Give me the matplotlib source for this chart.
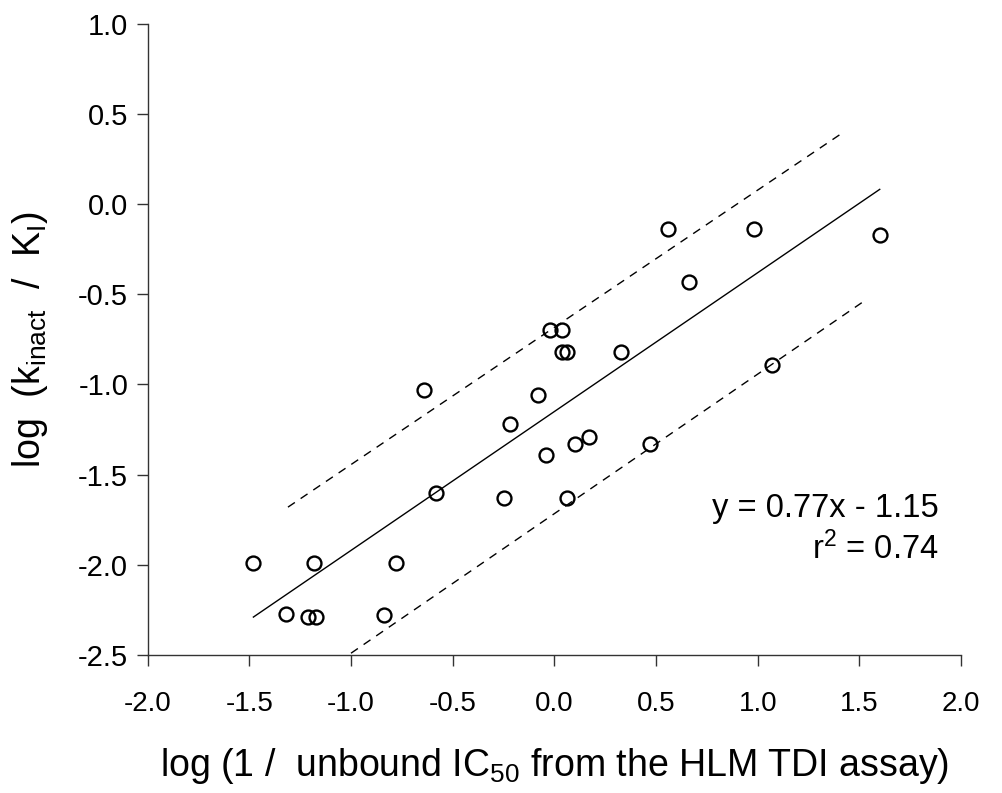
import numpy as np
import matplotlib
matplotlib.use("Agg")
import matplotlib.pyplot as plt

plt.rcParams['font.family'] = ['Liberation Sans', 'DejaVu Sans']
plt.rcParams['mathtext.fontset'] = 'custom'
plt.rcParams['mathtext.rm'] = 'Liberation Sans'
plt.rcParams['mathtext.it'] = 'Liberation Sans'
plt.rcParams['mathtext.default'] = 'regular'

# Data
x_vals = [-1.48, -1.32, -1.21, -1.17, -1.18, -0.84, -0.78, -0.58,
          -0.02, 0.04, 0.04, 0.06, 0.33, -0.64, -0.08, -0.22,
          -0.04, 0.10, 0.17, -0.25, 0.06, 0.47,
          0.56, 0.98, 1.60, 0.66, 1.07]
y_vals = [-1.99, -2.27, -2.29, -2.29, -1.99, -2.28, -1.99, -1.60,
          -0.70, -0.70, -0.82, -0.82, -0.82, -1.03, -1.06, -1.22,
          -1.39, -1.33, -1.29, -1.63, -1.63, -1.33,
          -0.14, -0.14, -0.17, -0.43, -0.89]

slope = 0.77
intercept = -1.15
r2 = 0.74

upper_x = [-1.31, 1.41]
upper_y = [-1.68, 0.39]
lower_x = [-1.00, 1.52]
lower_y = [-2.49, -0.54]

x_ticks = [-2.0, -1.5, -1.0, -0.5, 0.0, 0.5, 1.0, 1.5, 2.0]
y_ticks = [-2.5, -2.0, -1.5, -1.0, -0.5, 0.0, 0.5, 1.0]

fig = plt.figure(figsize=(10.03, 7.93), dpi=100)
ax = fig.add_axes([0.1472, 0.174, 0.811, 0.796])

# regression line
fx = np.array([min(x_vals), max(x_vals)])
ax.plot(fx, slope * fx + intercept, color='black', lw=1.0)
ax.plot(upper_x, upper_y, color='black', lw=1.0, dashes=(6, 5))
ax.plot(lower_x, lower_y, color='black', lw=1.0, dashes=(6, 5))

ax.plot(x_vals, y_vals, linestyle='none', marker='o', markersize=10,
        markerfacecolor='none', markeredgecolor='black', markeredgewidth=1.7,
        clip_on=False)

ax.set_xlim(-2.0, 2.0)
ax.set_ylim(-2.5, 1.0)
ax.set_xticks(x_ticks)
ax.set_yticks(y_ticks)
ax.set_xticklabels([f"{t:.1f}" for t in x_ticks], fontsize=20)
ax.set_yticklabels([f"{t:.1f}" for t in y_ticks], fontsize=21)

for s in ['top', 'right']:
    ax.spines[s].set_visible(False)
for s in ['left', 'bottom']:
    ax.spines[s].set_linewidth(1.0)
    ax.spines[s].set_color('#333333')

ax.tick_params(axis='both', direction='out', length=8, width=1.0,
               color='#333333')
ax.tick_params(axis='x', pad=18)
ax.tick_params(axis='y', pad=6)

ax.set_xlabel(r'log (1 /  unbound IC$_{50}$ from the HLM TDI assay)',
              fontsize=27, labelpad=21)
ax.set_ylabel(r'log  (k$_{inact}$  /  K$_{I}$)', fontsize=27, labelpad=20)

ax.text(1.89, -1.69, f'y = {slope:.2f}x - {abs(intercept):.2f}',
        fontsize=23.5, ha='right', va='center')
ax.text(1.89, -1.91, f'r$^{{2}}$ = {r2:.2f}',
        fontsize=23.5, ha='right', va='center')

fig.savefig('out.png', dpi=100)
